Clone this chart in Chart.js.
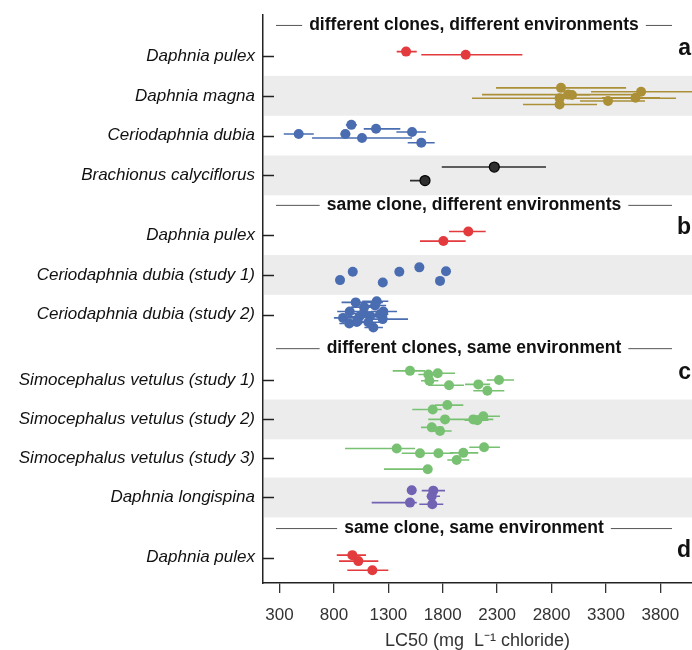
<!DOCTYPE html>
<html>
<head>
<meta charset="utf-8">
<script src="https://cdn.jsdelivr.net/npm/chart.js@4/dist/chart.umd.min.js"></script>
<style>
  html, body { margin: 0; padding: 0; background: #fff; }
</style>
</head>
<body>
<canvas id="chart" width="692" height="650"></canvas>
<script>
// rows of the figure, top to bottom
const rowLabels = [
  "Daphnia pulex",
  "Daphnia magna",
  "Ceriodaphnia dubia",
  "Brachionus calyciflorus",
  "Daphnia pulex",
  "Ceriodaphnia dubia (study 1)",
  "Ceriodaphnia dubia (study 2)",
  "Simocephalus vetulus (study 1)",
  "Simocephalus vetulus (study 2)",
  "Simocephalus vetulus (study 3)",
  "Daphnia longispina",
  "Daphnia pulex"
];
const rowPos = [1, 2, 3, 4, 5.5, 6.5, 7.5, 9.14, 10.13, 11.11, 12.09, 13.6];
const shadedRows = [1, 3, 5, 8, 10];

const sectionTitles = [
  "different clones, different environments",
  "same clone, different environments",
  "different clones, same environment",
  "same clone, same environment"
];
const sectionPos = [0.22, 4.74, 8.34, 12.86];
const panelLetters = ["a", "b", "c", "d"];
const panelRows = [0, 4, 7, 11];

const xTicks = [300, 800, 1300, 1800, 2300, 2800, 3300, 3800];

// each estimate: [LC50, lower CI, upper CI, dodge within the row]
const pulexA = [
  [1463, 1377, 1561, -0.11],
  [2011, 1603, 2532, -0.03]
];
const magna = [
  [2887, 2290, 3485, -0.20],
  [3623, 3163, 4200, -0.10],
  [2952, 2161, 3632, -0.03],
  [2988, 2832, 3154, -0.02],
  [2874, 2069, 3944, 0.06],
  [3572, 3264, 3797, 0.05],
  [3319, 3062, 3659, 0.13],
  [2874, 2538, 3218, 0.22]
];
const dubiaA = [
  [476, 339, 615, -0.04],
  [960, 910, 1010, -0.27],
  [905, 860, 950, -0.04],
  [1058, 599, 1518, 0.06],
  [1187, 1074, 1410, -0.17],
  [1518, 1374, 1646, -0.09],
  [1603, 1478, 1726, 0.18]
];
const brachionus = [
  [2274, 1791, 2749, -0.21],
  [1637, 1499, 1680, 0.13]
];
const pulexB = [
  [2035, 1858, 2195, -0.09],
  [1806, 1591, 2011, 0.15]
];
const dubia1 = [
  [856, null, null, 0.13],
  [973, null, null, -0.08],
  [1249, null, null, 0.19],
  [1401, null, null, -0.08],
  [1585, null, null, -0.19],
  [1830, null, null, -0.09],
  [1775, null, null, 0.15]
];
const dubia2 = [
  [1000, 870, 1250, -0.31],
  [1193, 1060, 1300, -0.34],
  [945, 830, 1120, -0.08],
  [1077, 960, 1210, -0.19],
  [1178, 1080, 1280, -0.23],
  [1254, 1140, 1380, -0.08],
  [884, 800, 1000, 0.08],
  [1033, 900, 1200, 0.05],
  [1132, 1000, 1290, 0.03],
  [1248, 1100, 1481, 0.11],
  [941, 850, 1060, 0.22],
  [1116, 1000, 1250, 0.19],
  [1162, 1080, 1250, 0.32],
  [1070, 960, 1170, -0.03],
  [1224, 1150, 1300, -0.01],
  [1010, 920, 1100, 0.18]
];
const simo1 = [
  [1499, 1340, 1637, -0.23],
  [1668, 1575, 1775, -0.14],
  [1754, 1653, 1913, -0.17],
  [1677, 1600, 1760, 0.02],
  [1858, 1667, 1995, 0.13],
  [2127, 2005, 2235, 0.11],
  [2317, 2204, 2455, 0.00],
  [2210, 2081, 2366, 0.27]
];
const simo2 = [
  [1842, 1729, 1989, -0.36],
  [1708, 1520, 1790, -0.25],
  [1821, 1667, 1959, 0.00],
  [2081, 1943, 2265, 0.00],
  [2118, 2000, 2220, 0.02],
  [2173, 2051, 2326, -0.08],
  [1699, 1600, 1805, 0.20],
  [1775, 1683, 1882, 0.29]
];
const simo3 = [
  [1377, 902, 1545, -0.25],
  [1591, 1423, 1713, -0.13],
  [1760, 1622, 1897, -0.13],
  [1989, 1867, 2127, -0.14],
  [2180, 2044, 2326, -0.28],
  [1928, 1842, 2044, 0.04],
  [1662, 1260, 1680, 0.27]
];
const longispina = [
  [1515, null, null, -0.18],
  [1713, 1607, 1821, -0.17],
  [1699, 1653, 1775, -0.03],
  [1499, 1147, 1561, 0.13],
  [1704, 1585, 1805, 0.17]
];
const pulexD = [
  [969, 826, 1095, -0.06],
  [1024, 847, 1208, 0.09],
  [1153, 923, 1300, 0.32]
];

const rowData = [pulexA, magna, dubiaA, brachionus, pulexB, dubia1, dubia2,
  simo1, simo2, simo3, longispina, pulexD];

const red = "#e23a3d", gold = "#ab9038", blue = "#4a6db1",
  dark = "#2e2e2e", green = "#79c172", purple = "#7262b3";
const rowColors = [red, gold, blue, dark, red, blue, blue, green, green, green, purple, red];

const FONT = '"Liberation Sans", Arial, Helvetica, sans-serif';
Chart.defaults.font.family = FONT;

// build one dot dataset and one error-bar dataset per row
const datasets = [];
rowData.forEach((row, i) => {
  const col = rowColors[i];
  datasets.push({
    type: "scatter",
    order: 0,
    data: row.map(p => ({ x: p[0], y: rowPos[i] + p[3] })),
    backgroundColor: col,
    borderColor: i === 3 ? "#000" : col,
    borderWidth: i === 3 ? 1.2 : 0,
    pointRadius: 5,
    pointHoverRadius: 5
  });
  const bars = [];
  row.forEach(p => {
    if (p[1] === null) return;
    const yy = rowPos[i] + p[3];
    bars.push({ x: p[1], y: yy }, { x: p[2], y: yy }, { x: p[2], y: null });
  });
  datasets.push({
    type: "line",
    order: 1,
    data: bars,
    borderColor: col,
    borderWidth: 1.6,
    pointRadius: 0,
    spanGaps: false,
    fill: false
  });
});

const decor = {
  id: "decor",
  beforeDatasetsDraw(chart) {
    const { ctx, chartArea: a, scales: { y } } = chart;
    ctx.save();
    ctx.fillStyle = "#ececed";
    shadedRows.forEach(i => {
      const t = y.getPixelForValue(rowPos[i] - 0.5);
      const b = y.getPixelForValue(rowPos[i] + 0.5);
      ctx.fillRect(a.left + 1, t, a.right - a.left, b - t);
    });
    ctx.restore();
  },
  afterDraw(chart) {
    const { ctx, chartArea: a, scales: { y } } = chart;
    ctx.save();
    // y ticks point inwards
    ctx.strokeStyle = "#222";
    ctx.lineWidth = 1.5;
    rowPos.forEach(v => {
      const py = Math.round(y.getPixelForValue(v)) + 0.5;
      ctx.beginPath();
      ctx.moveTo(a.left, py);
      ctx.lineTo(a.left + 11, py);
      ctx.stroke();
    });

    // section headers with rules either side
    ctx.font = "bold 17.5px " + FONT;
    ctx.textAlign = "center";
    ctx.textBaseline = "middle";
    const l = a.left + 13, r = a.right - 20, cx = (l + r) / 2;
    sectionTitles.forEach((t, i) => {
      const py = y.getPixelForValue(sectionPos[i]);
      const w = ctx.measureText(t).width;
      ctx.fillStyle = "#111";
      ctx.fillText(t, cx, py);
      ctx.strokeStyle = "#555";
      ctx.lineWidth = 1;
      ctx.beginPath();
      ctx.moveTo(l, py + 0.5);
      ctx.lineTo(cx - w / 2 - 7, py + 0.5);
      ctx.moveTo(cx + w / 2 + 7, py + 0.5);
      ctx.lineTo(r, py + 0.5);
      ctx.stroke();
    });

    // panel letters
    ctx.font = "bold 23px " + FONT;
    ctx.textAlign = "right";
    ctx.textBaseline = "alphabetic";
    ctx.fillStyle = "#111";
    panelLetters.forEach((t, i) => {
      ctx.fillText(t, a.right - 1, y.getPixelForValue(rowPos[panelRows[i]]) - 1);
    });
    ctx.restore();
  }
};

new Chart(document.getElementById("chart"), {
  type: "scatter",
  data: { datasets },
  plugins: [decor],
  options: {
    responsive: false,
    animation: false,
    devicePixelRatio: 1,
    layout: { autoPadding: false, padding: { top: 15, right: 0, left: 0, bottom: 0 } },
    plugins: { legend: { display: false }, tooltip: { enabled: false } },
    scales: {
      x: {
        type: "linear",
        min: 148,
        max: 4091,
        afterBuildTicks: s => { s.ticks = xTicks.map(v => ({ value: v })); },
        afterFit: s => { s.height = 67; s.paddingLeft = 0; s.paddingRight = 0; },
        ticks: {
          callback: v => String(v),
          font: { size: 17 },
          color: "#333",
          padding: 12,
          autoSkip: false,
          maxRotation: 0
        },
        grid: { drawOnChartArea: false, tickLength: 10, color: "#333", lineWidth: 1.3 },
        border: { color: "#222", width: 1.5 },
        title: {
          display: true,
          text: "LC50 (mg  L\u207B\u00B9 chloride)",
          font: { size: 18, lineHeight: 1 },
          color: "#333",
          padding: { top: 0, bottom: 0 }
        }
      },
      y: {
        type: "linear",
        reverse: true,
        min: -0.03,
        max: 14.24,
        afterBuildTicks: s => { s.ticks = rowPos.map(v => ({ value: v })); },
        afterFit: s => { s.width = 263; s.paddingTop = 0; s.paddingBottom = 0; },
        ticks: {
          callback: (v, i) => rowLabels[i],
          font: { size: 17, style: "italic" },
          color: "#111",
          padding: 8,
          autoSkip: false
        },
        grid: { drawOnChartArea: false, drawTicks: false, tickLength: 0 },
        border: { color: "#222", width: 1.5 }
      }
    }
  }
});
</script>
</body>
</html>
